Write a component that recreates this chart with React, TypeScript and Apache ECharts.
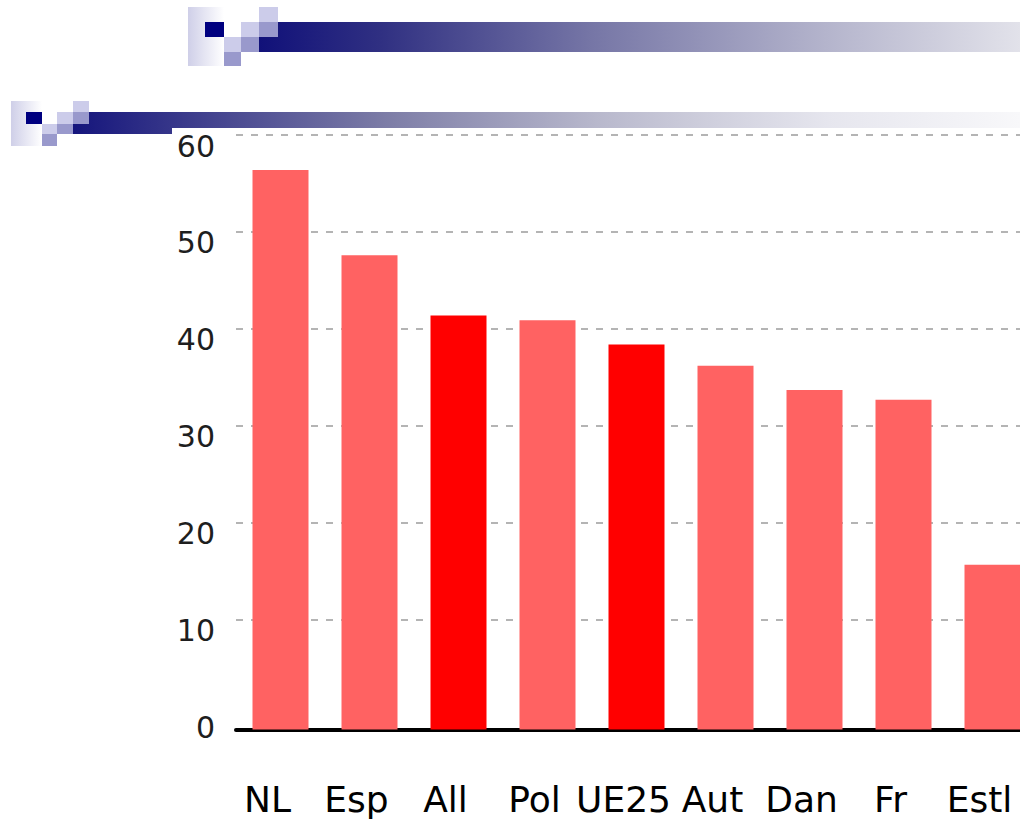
import React, { useEffect, useRef } from "react";
import * as echarts from "echarts";

const categories = ["NL", "Esp", "All", "Pol", "UE25", "Aut", "Dan", "Fr", "Estl"];
const values = [56.4, 47.6, 41.4, 40.9, 38.4, 36.2, 33.7, 32.7, 15.7];
const highlighted = ["All", "UE25"];
const yLabelValues = [0, 10, 20, 30, 40, 50, 60];
const gridLineValues = [10, 20, 30, 40, 50, 60];

const NAVY = "#000080";
const LIGHT = "#ccccea";
const MEDIUM = "#9999cc";
const RIGHT = 1060;

function decoration(cols: number[], rows: number[], barStops: any[]) {
  const [c0, c1, c2, c3, c4, c5] = cols;
  const [r0, r1, r2, r3, r4] = rows;
  const rect = (x1: number, y1: number, x2: number, y2: number, fill: any) => ({
    type: "rect",
    shape: { x: x1, y: y1, width: x2 - x1, height: y2 - y1 },
    style: { fill },
    silent: true,
  });
  const barGrad = new echarts.graphic.LinearGradient(c3, 0, 1020, 0, barStops, true);
  return [
    rect(c0, r0, c2, r4, new echarts.graphic.LinearGradient(c0, 0, c2, 0, [
      { offset: 0, color: "#cfcfe8" },
      { offset: 1, color: "#ffffff" },
    ], true)),
    rect(c1, r1, c2, r2, NAVY),
    rect(c2, r2, c3, r3, LIGHT),
    rect(c3, r1, c4, r2, LIGHT),
    rect(c4, r0, c5, r1, LIGHT),
    rect(c2, r3, c3, r4, MEDIUM),
    rect(c3, r2, c4, r3, MEDIUM),
    rect(c4, r1, c5, r2, MEDIUM),
    rect(c5, r1, RIGHT, r2, barGrad),
    rect(c4, r2, RIGHT, r3, barGrad),
  ];
}

export default function App() {
  const ref = useRef<HTMLDivElement>(null);
  useEffect(() => {
    if (!ref.current) return;
    const chart = echarts.init(ref.current, null, { renderer: "svg" });
    const topDeco = decoration(
      [188, 205, 224, 241, 259, 278],
      [7, 22, 37, 52, 66],
      [
        { offset: 0, color: "#0c0c78" },
        { offset: 0.18, color: "#303082" },
        { offset: 0.45, color: "#7676a6" },
        { offset: 0.75, color: "#b4b4cc" },
        { offset: 1, color: "#e2e2ea" },
      ]
    );
    const secondDeco = decoration(
      [11, 26, 42, 57, 73, 89],
      [101, 112, 124, 134, 146],
      [
        { offset: 0, color: "#10107a" },
        { offset: 0.34, color: "#7c7ca6" },
        { offset: 0.56, color: "#b8b8cc" },
        { offset: 0.8, color: "#e6e6ee" },
        { offset: 1, color: "#f8f8fa" },
      ]
    );
    chart.setOption({
      animation: false,
      backgroundColor: "#ffffff",
      graphic: [
        ...topDeco,
        ...secondDeco,
        {
          type: "rect",
          shape: { x: 172, y: 128, width: RIGHT - 172, height: 10 },
          style: { fill: "#ffffff" },
          silent: true,
        },
      ],
      grid: { left: 236, top: 135, width: 801, height: 594.5, containLabel: false },
      xAxis: {
        type: "category",
        data: categories,
        axisLine: { show: true, onZero: false, lineStyle: { color: "#000000", width: 4 } },
        axisTick: { show: false },
        axisLabel: {
          interval: 0,
          hideOverlap: false,
          fontFamily: "DejaVu Sans",
          fontSize: 36,
          color: "#000000",
          margin: 52,
          padding: [0, 26, 0, 0],
        },
        splitLine: { show: false },
      },
      yAxis: {
        type: "value",
        min: -1.3,
        max: 60,
        startValue: -1.3,
        axisLine: { show: false },
        axisTick: { show: false, customValues: gridLineValues },
        axisLabel: {
          customValues: yLabelValues,
          fontFamily: "DejaVu Sans",
          fontSize: 30,
          color: "#1e1e1e",
          margin: 21,
          verticalAlign: "top",
          lineHeight: 22,
        },
        splitLine: {
          show: true,
          lineStyle: { color: "#b4b4b4", width: 2, type: [7, 8] },
        },
      },
      series: [
        {
          type: "bar",
          barWidth: 56,
          data: values.map((v, i) => ({
            value: v,
            itemStyle: { color: highlighted.includes(categories[i]) ? "#ff0000" : "#ff6262" },
          })),
        },
      ],
    });
    return () => chart.dispose();
  }, []);
  return (
    <div style={{ position: "fixed", left: 0, top: 0, width: 1020, height: 824, overflow: "hidden" }}>
      <div ref={ref} style={{ width: RIGHT, height: 824 }} />
    </div>
  );
}
